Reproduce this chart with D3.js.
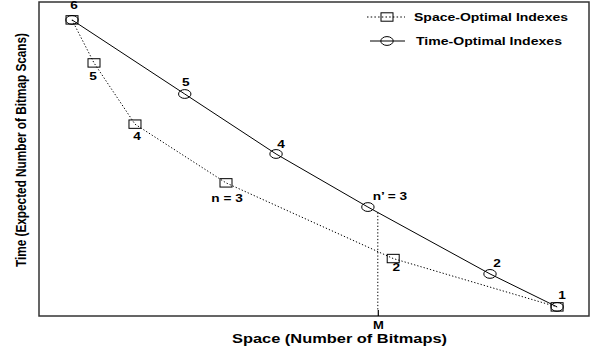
<!DOCTYPE html>
<html>
<head>
<meta charset="utf-8">
<script src="https://cdn.jsdelivr.net/npm/d3@7"></script>
<style>
  html, body { margin: 0; padding: 0; background: #fff; }
  svg { display: block; }
  text { font-family: "Liberation Sans", Arial, Helvetica, sans-serif; font-weight: bold; fill: #000; }
</style>
</head>
<body>
<svg id="chart" width="595" height="351"></svg>
<script>
// ---- data ----
const spaceOptX = [6.0, 10.0, 17.45, 34.0, 64.4, 94.2];
const spaceOptY = [94.3, 80.6, 61.1, 42.4, 18.3, 2.9];
const spaceOptLabels = ["6", "5", "4", "n = 3", "2", "1"];

const timeOptX = [6.0, 26.5, 43.1, 59.8, 82.0, 94.2];
const timeOptY = [94.3, 70.7, 51.6, 34.7, 13.4, 2.9];
const timeOptLabels = ["", "5", "4", "n\u2019 = 3", "2", ""];

const mValue = 61.6;
const mLabel = "M";
const seriesNames = ["Space-Optimal Indexes", "Time-Optimal Indexes"];
const xTitle = "Space (Number of Bitmaps)";
const yTitle = "Time (Expected Number of Bitmap Scans)";

// ---- layout ----
const svg = d3.select("#chart");
const padL = 39, padR = 589, padT = 2, padB = 316;
const x = d3.scaleLinear().domain([0, 100]).range([padL, padR]);
const y = d3.scaleLinear().domain([0, 100]).range([padB, padT]);
const stretch = 1.3;

// frame
svg.append("rect")
  .attr("x", padL).attr("y", padT)
  .attr("width", padR - padL).attr("height", padB - padT)
  .attr("fill", "none").attr("stroke", "#333").attr("stroke-width", 1.5);

const spacePts = spaceOptX.map((v, i) => ({x: v, y: spaceOptY[i], label: spaceOptLabels[i]}));
const timePts = timeOptX.map((v, i) => ({x: v, y: timeOptY[i], label: timeOptLabels[i]}));

const line = d3.line().x(d => x(d.x)).y(d => y(d.y));

svg.append("path").datum(spacePts).attr("d", line)
  .attr("fill", "none").attr("stroke", "#000").attr("stroke-width", 1)
  .attr("stroke-dasharray", "1.3,2");
svg.append("path").datum(timePts).attr("d", line)
  .attr("fill", "none").attr("stroke", "#000").attr("stroke-width", 1);

// M marker line (from time-optimal curve down to axis)
const mY = d3.scaleLinear().domain(timeOptX.slice(3, 5)).range(timeOptY.slice(3, 5))(mValue);
svg.append("line")
  .attr("x1", x(mValue)).attr("x2", x(mValue))
  .attr("y1", y(mY)).attr("y2", padB - 6)
  .attr("stroke", "#000").attr("stroke-width", 1).attr("stroke-dasharray", "1.3,2");
// x axis tick for M (inward)
const xAxis = d3.axisBottom(x).tickValues([mValue]).tickSize(-6).tickFormat(() => mLabel);
const gx = svg.append("g").attr("transform", `translate(0,${padB})`).call(xAxis);
gx.select(".domain").remove();
gx.selectAll(".tick line").attr("stroke", "#000").attr("stroke-width", 1.2);
gx.selectAll(".tick text")
  .attr("y", 0).attr("dy", null)
  .attr("transform", `translate(0,13) scale(${stretch},1)`)
  .style("font-size", "10px").style("font-family", "Liberation Sans, Arial, sans-serif")
  .style("font-weight", "bold").attr("fill", "#000");

// markers
function square(g, cx, cy) {
  g.append("rect").attr("x", cx - 6).attr("y", cy - 4.2).attr("width", 12).attr("height", 8.4)
    .attr("fill", "none").attr("stroke", "#000").attr("stroke-width", 1);
}
function circle(g, cx, cy) {
  g.append("ellipse").attr("cx", cx).attr("cy", cy).attr("rx", 6.2).attr("ry", 4.4)
    .attr("fill", "none").attr("stroke", "#000").attr("stroke-width", 1);
}
const gm = svg.append("g");
spacePts.forEach(d => square(gm, x(d.x), y(d.y)));
timePts.forEach(d => circle(gm, x(d.x), y(d.y)));

// labels (offsets in px)
const spaceOff = [[2, -11], [-1, 17], [2, 16], [1, 19], [3, 12], [5, -8]];
const timeOff = [[0, 0], [1, -8], [5, -6], [22, -7], [7, -7], [0, 0]];
function label(txt, px, py, size) {
  svg.append("text")
    .attr("transform", `translate(${px},${py}) scale(${stretch},1)`)
    .attr("text-anchor", "middle")
    .style("font-size", (size || 10.5) + "px")
    .text(txt);
}
spacePts.forEach((d, i) => { if (d.label) label(d.label, x(d.x) + spaceOff[i][0], y(d.y) + spaceOff[i][1]); });
timePts.forEach((d, i) => { if (d.label) label(d.label, x(d.x) + timeOff[i][0], y(d.y) + timeOff[i][1]); });

// legend
const lg = svg.append("g");
lg.append("line").attr("x1", 367).attr("x2", 405).attr("y1", 17).attr("y2", 17)
  .attr("stroke", "#000").attr("stroke-width", 1).attr("stroke-dasharray", "1.5,2.2");
square(lg, 387, 17);
lg.append("text").attr("x", 414).attr("y", 21)
  .attr("textLength", 154).attr("lengthAdjust", "spacingAndGlyphs")
  .style("font-size", "10.5px").text(seriesNames[0]);
lg.append("line").attr("x1", 370).attr("x2", 405).attr("y1", 41).attr("y2", 41)
  .attr("stroke", "#000").attr("stroke-width", 1);
circle(lg, 387, 41);
lg.append("text").attr("x", 416).attr("y", 45)
  .attr("textLength", 146).attr("lengthAdjust", "spacingAndGlyphs")
  .style("font-size", "10.5px").text(seriesNames[1]);

// axis titles
svg.append("text").attr("x", 232).attr("y", 343)
  .attr("textLength", 215).attr("lengthAdjust", "spacingAndGlyphs")
  .style("font-size", "12px").text(xTitle);
svg.append("text")
  .attr("transform", "translate(26,150) scale(1.25,1) rotate(-90)")
  .attr("text-anchor", "middle")
  .attr("textLength", 234).attr("lengthAdjust", "spacingAndGlyphs")
  .style("font-size", "11.5px").text(yTitle);
</script>
</body>
</html>
